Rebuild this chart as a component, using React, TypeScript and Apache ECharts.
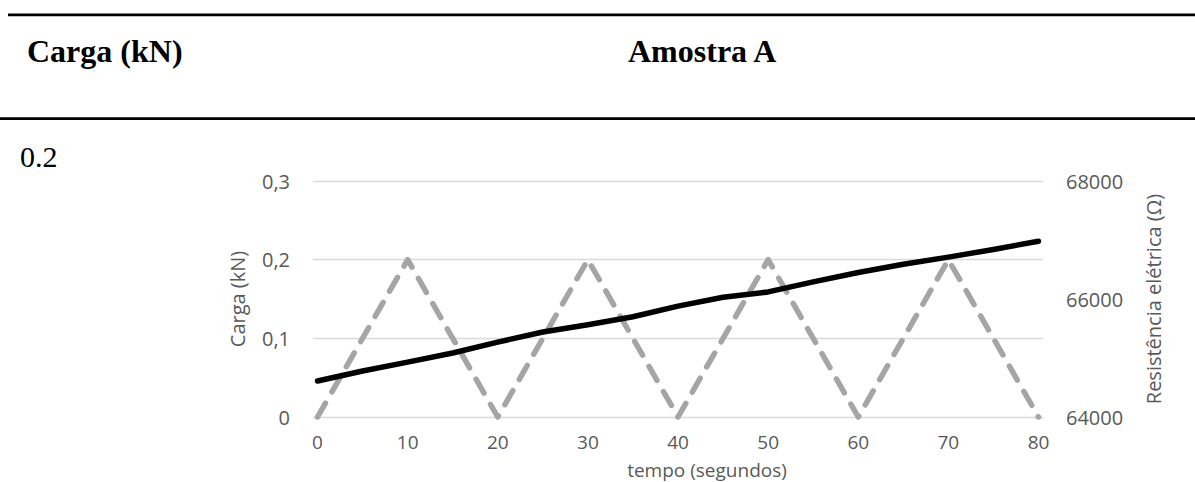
import React, { useEffect, useRef } from "react";
import * as echarts from "echarts";

// Categories / ticks
const xTicks = [0, 10, 20, 30, 40, 50, 60, 70, 80];

// Load (kN) – grey dashed triangle wave
const loadTime = [0, 10, 20, 30, 40, 50, 60, 70, 80];
const loadValues = [0, 0.2, 0, 0.2, 0, 0.2, 0, 0.2, 0];

// Electrical resistance (Ω) – black line
const resTime = [0, 5, 10, 15, 20, 25, 30, 35, 40, 45, 50, 55, 60, 65, 70, 75, 80];
const resValues = [
  64610, 64780, 64930, 65085, 65270, 65440, 65565, 65700, 65880, 66030, 66120,
  66290, 66450, 66590, 66710, 66840, 66980,
];

const headerLeft = "Carga (kN)";
const headerRight = "Amostra A";
const cellValue = "0.2";

const FONT = "'Open Sans', sans-serif";
const SERIF = "'Liberation Serif', 'Times New Roman', serif";
const LABEL = "#595959";

export default function App() {
  const ref = useRef<HTMLDivElement>(null);

  useEffect(() => {
    if (!ref.current) return;
    const chart = echarts.init(ref.current, undefined, { renderer: "svg" });
    chart.setOption({
      animation: false,
      backgroundColor: "#ffffff",
      grid: { left: 313, right: 152, top: 181, bottom: 65 },
      graphic: [
        { type: "rect", shape: { x: 8, y: 13.5, width: 1195, height: 2.7 }, style: { fill: "#000" } },
        { type: "rect", shape: { x: 0, y: 117.3, width: 1195, height: 2.7 }, style: { fill: "#000" } },
        {
          type: "text",
          x: 27,
          y: 51,
          style: { text: headerLeft, font: `bold 32px ${SERIF}`, fill: "#000", verticalAlign: "middle" },
        },
        {
          type: "text",
          x: 628,
          y: 51,
          style: { text: headerRight, font: `bold 32px ${SERIF}`, fill: "#000", verticalAlign: "middle" },
        },
        {
          type: "text",
          x: 20,
          y: 156,
          style: { text: cellValue, font: `30px ${SERIF}`, fill: "#000", verticalAlign: "middle" },
        },
      ],
      xAxis: {
        type: "value",
        min: -0.5,
        max: 80.5,
        name: "tempo (segundos)",
        nameLocation: "middle",
        nameGap: 43,
        nameTextStyle: {
          fontFamily: FONT,
          fontSize: 19,
          lineHeight: 19,
          color: LABEL,
          padding: [0, 0, 0, 58],
        },
        axisLine: { show: false },
        axisTick: { show: false },
        splitLine: { show: false },
        axisLabel: {
          customValues: xTicks,
          fontFamily: FONT,
          fontSize: 19,
          lineHeight: 19,
          color: LABEL,
          margin: 15,
        },
      },
      yAxis: [
        {
          type: "value",
          min: 0,
          max: 0.3,
          interval: 0.1,
          name: "Carga (kN)",
          nameLocation: "middle",
          nameGap: 66,
          nameRotate: 90,
          nameTextStyle: { fontFamily: FONT, fontSize: 20, color: LABEL },
          axisLine: { show: false },
          axisTick: { show: false },
          splitLine: { lineStyle: { color: "#d9d9d9", width: 1.4 } },
          axisLabel: {
            fontFamily: FONT,
            fontSize: 20,
            color: LABEL,
            margin: 23,
            formatter: (v: number) => String(Math.round(v * 10) / 10).replace(".", ","),
          },
        },
        {
          type: "value",
          min: 64000,
          max: 68000,
          interval: 2000,
          position: "right",
          name: "Resistência elétrica (Ω)",
          nameLocation: "middle",
          nameGap: 100,
          nameRotate: 90,
          nameTextStyle: { fontFamily: FONT, fontSize: 20, color: LABEL },
          axisLine: { show: false },
          axisTick: { show: false },
          splitLine: { show: false },
          axisLabel: {
            fontFamily: FONT,
            fontSize: 20,
            color: LABEL,
            margin: 23,
            formatter: (v: number) => String(Math.round(v)),
          },
        },
      ],
      series: [
        {
          name: "Carga",
          type: "line",
          yAxisIndex: 0,
          showSymbol: false,
          data: loadTime.map((t, i) => [t, loadValues[i]]),
          lineStyle: { color: "#a5a5a5", width: 5.5, type: [16, 13], cap: "round", join: "round" },
          z: 2,
        },
        {
          name: "Resistência",
          type: "line",
          yAxisIndex: 1,
          showSymbol: false,
          data: resTime.map((t, i) => [t, resValues[i]]),
          lineStyle: { color: "#000000", width: 5.5, cap: "round", join: "round" },
          z: 3,
        },
      ],
    });
    return () => chart.dispose();
  }, []);

  return (
    <div
      ref={ref}
      style={{ position: "absolute", left: 0, top: 0, width: 1195, height: 482 }}
    />
  );
}
